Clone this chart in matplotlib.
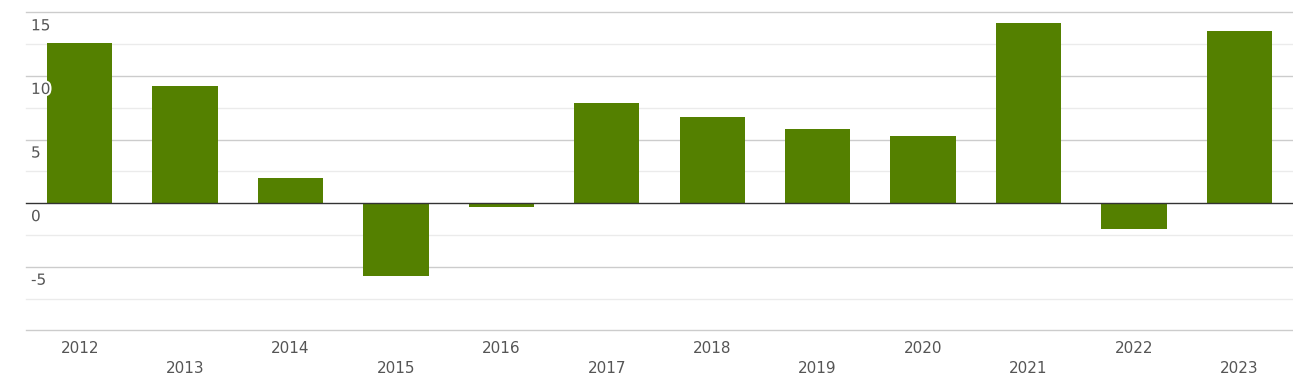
import matplotlib
matplotlib.use("Agg")
import matplotlib.pyplot as plt
import matplotlib.patheffects as pe
from matplotlib.transforms import blended_transform_factory, ScaledTranslation

years = ["2012", "2013", "2014", "2015", "2016", "2017", "2018", "2019", "2020", "2021", "2022", "2023"]
values = [12.58, 9.2, 1.97, -5.74, -0.29, 7.86, 6.76, 5.82, 5.27, 14.15, -2.04, 13.52]
y_ticks = [-10, -5, 0, 5, 10, 15]
y_labels = ["", "-5", "0", "5", "10", "15"]
minor_ticks = [-7.5, -2.5, 2.5, 7.5, 12.5]

fig = plt.figure(figsize=(12.93, 3.84), dpi=100)
ax = fig.add_axes([26/1293, 1 - 330.3/384, 1266/1293, (330.3 - 12.3)/384])

x = list(range(len(years)))
ax.bar(x, values, width=0.62, color="#548000", zorder=2)
ax.set_xlim(-0.51, len(years) - 0.5)
ax.set_ylim(-10, 15)

for t in minor_ticks:
    ax.axhline(t, color="#ebebeb", lw=1, zorder=1, clip_on=False)
for t in y_ticks:
    if t != 0:
        ax.axhline(t, color="#cccccc", lw=1, zorder=1, clip_on=False)
ax.axhline(0, color="#333333", lw=1, zorder=3, clip_on=False)

for s in ax.spines.values():
    s.set_visible(False)
ax.set_yticks([])

trans = blended_transform_factory(ax.transAxes, ax.transData) + ScaledTranslation(5/100, -13.5/100, fig.dpi_scale_trans)
for t, lab in zip(y_ticks, y_labels):
    if lab:
        ax.text(0, t, lab, transform=trans, ha="left", va="center", fontsize=11,
                color="#555555", zorder=4,
                path_effects=[pe.withStroke(linewidth=3, foreground="white")])

ax.set_xticks(x, years, fontsize=11, color="#555555")
ax.tick_params(axis="x", length=0, pad=7.8)
for i, tk in enumerate(ax.xaxis.get_major_ticks()):
    if i % 2 == 1:
        tk.set_pad(22.2)

fig.savefig("out.png", dpi=100)
